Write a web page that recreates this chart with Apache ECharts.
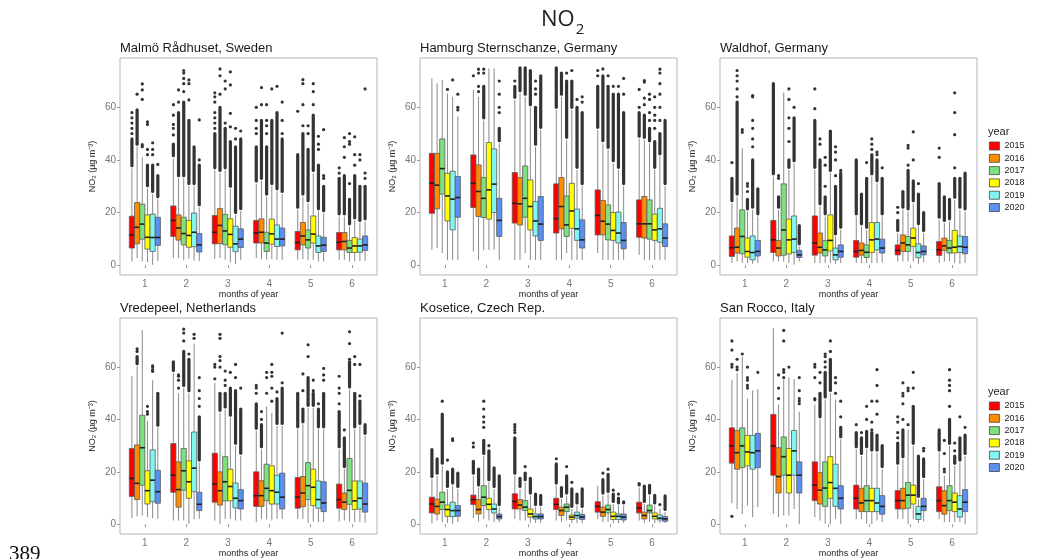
<!DOCTYPE html>
<html>
<head>
<meta charset="utf-8">
<script src="https://cdn.jsdelivr.net/npm/echarts@6/dist/echarts.min.js"></script>
<style>
  html, body { margin: 0; padding: 0; background: #fff; }
  #chart { width: 1046px; height: 559px; }
</style>
</head>
<body>
<div id="chart"></div>
<script>
// box rows: [lower whisker, Q1, median, Q3, upper whisker, top of dense outlier run (0 = none), ...single outliers]
const years = ['2015', '2016', '2017', '2018', '2019', '2020'];
const months = [1, 2, 3, 4, 5, 6];
const yTicks = [0, 20, 40, 60];
const yearColors = ['#ff0000', '#ff8c00', '#7ee07e', '#ffff00', '#80f5f2', '#5b8ff0'];
const stationNames = [
  'Malmö Rådhuset, Sweden', 'Hamburg Sternschanze, Germany', 'Waldhof, Germany',
  'Vredepeel, Netherlands', 'Kosetice, Czech Rep.', 'San Rocco, Italy'
];

const malmo = [
  [[1.4,6.5,11.5,18.6,36.8,48,50,52,54,56,58], [2.7,10.9,17.0,22.5,40.6,46,49.5,52,53.5,57,61], [2.4,8.1,12.5,18.9,36,50,52,54,56,58,62,64,65.5], [2.7,8.4,12.2,17.0,31,45,50,52,55,60], [2,5.8,8.6,12.8,21,42,58.5], [2,5.8,8.7,12.4,18.5,33,35,37]],
  [[2.7,8.1,14.4,23.8,45,59,65], [2.7,9.5,14.1,19.1,33,58,62,66.6], [2.7,8.2,15.1,21.5,35,60,65,72,74.6], [2.3,8.4,12.5,17.6,32,55,61,67.5], [2.3,7.7,11.1,16.2,26,50,53,61,69,70.5], [2,5.8,9,12.4,18.5,34,41,45,48.5]],
  [[1.4,9.9,15.6,23.2,41,0,45,45.8,63,66.6,68.9], [2.0,7.7,12.0,18.2,33,62,66,69,71,73,74], [2,7.8,13.0,19.3,36,52,54,67,70], [2,5.2,8.4,12.5,26,45,50,53,55,61], [2,6.5,9.6,13.4,23.5,44,50,53], [1.4,4.8,6.5,9.4,14.7,25,31,46,47,50]],
  [[1.1,6.1,10.6,19.1,29.2,38,42,44,53.5,54.5], [2.4,6.8,11.3,17.0,30,55,62.8,69,70.4], [1,6.8,11.7,17.6,29,47,52.6,57.7,68.5,73.5], [2.3,8,11.9,17.5,30,55,67], [2,8.4,11.8,18.7,35,57,61,66,69], [1.4,4.8,7.3,10.5,17,34,38,42,48.8]],
  [[0.1,5.2,10.5,19.4,27,38,42,44,46.5], [1.8,7.0,12.5,19.8,30,45], [0.5,5.1,8.1,14.8,19,45,48,52], [2,7.1,9.9,15.3,28,58,68], [1.4,4.8,7.3,11.1,20.4,38,44,46,49], [1.6,4.9,7.3,9.9,16,30,40,42]],
  [[1.6,7.5,10.5,18.2,25,34,38.3], [1.5,5.0,7.7,12.0,22,38,40,55.2], [2,6.7,9.9,13.8,20.5,48,51], [2,7.3,9.9,14.1,27,48,50,55,62], [1.4,5.2,7.6,10.6,19.7,30,33,34,51.5], [1.6,5.6,7.7,11.1,16.6,30,33,35,67]]
];

const hamburg = [
  [[5.8,19.7,31.1,42.5,71,0], [5.2,21.9,31.1,41.9,66.6,0,72], [2,16,23.5,35.2,62.8,68,70], [2,12.2,17.7,30.9,59,75], [4.6,11.5,18.9,28.6,51.4,68,72,74], [3.9,10.6,15.7,24.8,48,58,60,66.8]],
  [[6.5,21.4,30.4,42.5,69.1,0], [2,18.5,28,38.1,64,0,66,68,73,74.5], [2,15.3,23.3,33.3,65.3,75], [2,13.8,22.3,33.3,64,73], [2,11.5,16.7,24.6,46.3,72,74.6], [2,10.3,15.7,26.1,47.6,57,61,63.5,69.6,70.2]],
  [[4.6,27,36.7,48,70.4,0], [5.6,18.1,25.4,33.3,55,68,73,74.5], [4.6,18.2,25.4,37.7,64,75], [4.6,10.9,15.3,26.3,47.6,70,73], [2,9.6,15.6,22.9,43.8,68,72], [2,9.9,15.7,24.8,46.3,52,55,58,63,65]],
  [[2,16.8,26.3,34.9,65.3,0,66.8], [5.8,17.5,28.6,46.6,74.8,0], [2,13.4,22.3,32.4,60,74], [2,14,20.6,31.1,59,70,74], [2,9.4,13.2,20,38.7,65,68], [2,9.4,13.4,19.4,36.2,47,52,55,57,60,64]],
  [[2,13.4,25.1,35.7,64,0,70.4], [5.8,20,30.8,44.2,74.8,0], [2,11.1,16.8,24.2,45,60,65,67,70], [2,9.4,13.8,21.3,36.2,60,63], [2,8.4,12.2,20.2,36.2,65,68], [2,8.7,13.8,21.6,41.3,50,55,60,65,69,73,74.5]],
  [[2,18.2,25.7,33.7,56.5,0,59,60,65], [2,10.9,17,25.4,46.3,52,58,60,65,70], [2,9.4,15.6,26.1,51.4,72], [2,6.5,9.6,17.2,30,58,62,64], [2,6.2,9.4,16.2,30,58,65,71], [2,7.1,10.3,15.7,30,55]]
];

const waldhof = [
  [[0.8,3.3,6.6,11.1,23.5,33,39], [1.4,4.8,9.6,17,33.7,69], [0.8,3.8,8.4,18.7,36.2,55,59.5,67], [0.8,3,5.2,9.4,18.5,40], [1.4,3.9,5.6,7.7,12.2,17,20,22], [0.8,3.7,5.8,9,17.2,31,41,44.5]],
  [[1.4,4.6,6.8,14.1,26,62,64,67,70,72,74], [1.4,3.5,6.5,9.4,21,26,33,34], [0.8,4.6,6.8,12.2,22.3,40,46,48], [0.8,3.8,5.6,8.4,14.7,27], [1.4,5.2,8.4,11.5,21,28], [1.4,5.6,7.3,10.3,16,26]],
  [[0.8,4.3,10.9,21,44.5,0,50.5,51.5], [1.4,3.8,13.4,30.9,65.6,0], [0.8,3.5,5.8,9.4,18.5,26,30,38,41], [0.8,2.9,4.9,7.7,13.4,33,39], [1.4,5.2,7.7,10.9,20.4,36,38,44.5,45.5], [1.4,4.6,6.5,9.4,16.6,25]],
  [[0.8,3,5.2,10.3,20.4,25,28,30,31], [0.8,4.3,9.6,17.5,36.2,40,47,52,56,63,67], [0.8,5.4,9.4,19.1,35,51], [0.8,4.8,9.6,16.2,33.7,42,44,46,48], [1.4,7.1,10.3,14.1,23.5,32,40,50.7], [0.8,4.6,6.8,13.2,24.8,33,37,49.6,58,65.5]],
  [[0.5,2,4.8,11.1,21,40,45,48,52,55,64,64.5], [0.2,4.8,9.9,18.7,38.7,56,60], [0.5,2,3.9,6.5,10.9,30,34,40,43,45], [0.8,5.8,9.9,16.2,31.1,40,42,43], [0.5,2.8,4.8,8.1,14.7,27,31], [0.5,4.8,7.1,11.1,21,33]],
  [[0.8,3.5,5.2,9.4,18.5,29], [1.4,2.9,3.9,5.6,7.1,15], [0.8,3,5.2,7.7,13.4,35,36], [1,4.6,6.5,9.9,18.5,33,37], [1,3.9,5.2,7.3,12.2,20], [0.8,4.3,6.8,10.9,20.4,35]]
];

const vredepeel = [
  [[2.3,10.6,17.5,28.9,56.5,0], [1.4,12.2,18.7,30.8,57.7,62], [1.4,8.4,15.4,27.1,53.9,0,55.5,60,61], [0.8,6.8,10.9,20,35.6,46,50,52,53], [2,6.1,10.3,17.8,36.2,50], [1,6.1,9.4,15.3,28.6,43,46,50,52,56.5]],
  [[3,9.4,15.6,30.3,60.3,64,66,67], [1.4,6.5,13.2,23.8,50,0,52,55,56.5,57], [0.1,7.3,12.8,20,42.5,50,60,62.5,64,71,72.5], [2,6.8,10.9,16.6,28.6,38,40,43], [2,6.7,11.9,18.2,38.1,44,51,57.4], [1.4,5.6,8.4,11.9,21,33,36]],
  [[3.3,14.9,29.2,41.6,74.2,0], [1.4,13,20.4,28.9,52,66,70,73,74.5], [2,8.9,16.2,25.8,43.8,50,53,55,58.5], [1.8,9,13.7,22.9,45,0,50,56,58], [0.5,9.4,14.7,23.5,44.4,56,64,68.5], [1,7.6,12.9,25.1,51.4,62,63,69,73.5]],
  [[2.7,7.7,12.8,20.4,39.4,0,42,43,45], [0.1,9.9,16.2,24.2,50,63,65], [2,8.9,14.4,21,40.6,52,58], [1.4,7.7,12.8,22.3,42.5,0,47,52,56.5,58,61], [1,7.1,14.1,21,44.4,50,51,55], [0.8,5.6,8.9,16.5,36.2,50,61,64]],
  [[2.3,8.6,16.8,28.4,55,0,58.4,59,60,60.5], [2,12.4,21.4,35.2,69,0,71,72.5], [1.4,6.2,9.9,15.7,29.9,51,56,61], [2,7.7,12.2,18.7,37.5,48,50.5], [0.8,6.1,9.4,16.5,36.2,44,46], [0.8,5.8,9.9,16.5,37.5,47,49,61]],
  [[2,8,12.4,20.6,36.8,50], [2,5.2,7.6,12.2,23.5,41,45,48,51,56], [1.4,5.8,9,13.2,26.1,44,52], [2,5.8,10.3,19.5,37.5,52,54,73], [0.8,4.8,8.1,16.2,36.2,50,55,57,59.5], [0.5,4.6,7.7,15.7,33.7,38]]
];

const kosetice = [
  [[0.3,4.3,7.7,10.3,17.2,28.5], [2.3,7.5,9.4,11.1,18.5,24,29.5,31], [2,5.8,8.7,11.6,18.5,33,35,36,37,38], [1.4,5.6,7.6,9.9,14.7,23,25], [2,4.6,6.8,8.6,14.7,0], [1.4,4.3,6.1,8.4,14,15.5]],
  [[1.4,3.9,6.8,9.6,18.5,25], [1,3.9,5.6,9.4,14,21], [1.4,5.8,7.3,9.4,13.4,17.5], [0.8,3.3,5.2,6.5,9.6,14], [0.8,3,4.6,6.5,10.9,17,19.5], [0.5,2,3.3,4.6,7.7,14.5]],
  [[0.8,5.6,8.4,12.2,22.3,42,47], [2,7.1,10.3,14.7,26,32,37,39,41,44,47], [1.4,5.2,6.5,9,16,19.5,22], [1.4,4.8,6.5,7.7,10.9,18.5,22], [0.8,4.3,5.6,7.3,11.5,19,21], [0.8,4.3,5.2,7.3,10.9,14.8]],
  [[0.5,3,5.6,7.3,13.4,20,24.5], [1.4,5.6,7.6,9.9,16,28,30], [0.5,2.7,3.9,5.8,10.9,17.5], [0.4,1.8,2.7,3.5,5.8,13.5,16], [0.4,1.8,3,4.6,7.7,11.5,13], [0.4,2,3,4.3,7.1,11]],
  [[0.1,2.9,5.2,8.4,14.7,21,32,32.6], [0.8,4.3,5.8,7.7,13.4,21.5], [0.5,2,2.9,3.9,6.5,11.5], [0.4,2.3,3.3,4.6,7.1,11.5], [0.4,1.8,3,3.9,7.1,10,11.5], [0.4,1.6,2.3,3.5,5.8,0,7.5]],
  [[0.8,3,5.2,7.1,13.4,19.5], [0.8,2,2.9,3.9,6.5,18.5], [0.5,2,2.9,3.9,6.5,11], [0.4,1.8,2.7,3.7,5.8,13.5], [0.4,1.6,2.7,3.9,7.1,8.5], [0.4,1.1,2,2.9,4.6,10.8]]
];

const sanRocco = [
  [[8,23.3,29.9,36.8,55,0,3,60,61,66.5,70], [3.9,18.7,29.9,41.9,74.8,0], [2.7,9,14.9,23.8,45.7,0,47.5,48,56,60,61], [2,5.8,9.9,14.9,28.6,35,38], [2,5.8,9,12.8,22.3,31,33,35,39,41], [2,4.8,9,14.3,27.3,36]],
  [[5.8,21,27.3,35.8,57.7,0,59,60,63], [2.7,11.9,18.2,29.2,45.7,0,48,52,57], [1.4,7.7,13,19.7,40,50,54,58], [2,4.8,8.1,13.7,26,33,35], [2,5.8,9,13.7,24.8,36,40,46,49,50,54], [0.8,3.8,7.1,12.8,18.5,0,20,21,27,32]],
  [[3.9,21.6,29.9,36.8,64,0,65], [3.3,18.7,25.8,33.3,55.2,0,56,58,59,70,74], [0.1,6.8,13.8,23.8,47.6,58,60,62,64,65], [0.1,4.8,9,14.7,28.6,35.5,40,45], [0,6.1,11.1,15.9,36.2,0,38,51,52], [0.8,5.2,9,14.7,29.9,40,45,51,53,55,59]],
  [[7.1,22.3,27.6,33.9,48,0,52,53,55,56,60], [3.3,11.9,18.7,28.9,56,0,60], [0,9.9,15.9,25.8,50.1,63,66,70], [0,4.8,9,13.7,27.3,35,36,39,47], [2,7.7,11.1,14.9,29.9,45,52,58], [0.8,4.8,8.4,11.9,22.3,26,28,31]],
  [[2.7,21,27.3,33.9,51.1,0], [5.8,18.7,28,35.8,55.4,0], [2,6.8,13.7,22.9,47.6,0,50,54,56], [1.4,4.8,8.1,13.7,27.3,34,42,47,53,59], [0.5,1.8,3.9,6.8,9.6,26], [0.8,2.7,5.8,10.9,23.5,33,41]],
  [[6.5,21.6,28,34.7,51.6,0,58], [0,11.9,18.7,23.8,43,0,46,47,48,51,56], [0,5.8,9.9,14.7,32.4,37,41,47], [0.8,3.8,6.8,10.9,21,30], [1,5.2,6.8,9.9,17.2,25,28,29], [0,4.8,8.4,13.2,26,34,37]]
];

const stations = [malmo, hamburg, waldhof, vredepeel, kosetice, sanRocco];

const gridLeft = [120, 420, 720];
const gridTop = [58, 318];
const gridW = 257;
const gridH = 217;
const sansFont = '"Liberation Sans", Arial, sans-serif';

// one box per month for a given station/year, dodged like ggplot (6 boxes share 0.75 of a month)
function boxRenderer(rows, k, color) {
  return function (params, api) {
    const r = rows[params.dataIndex];
    const m = api.value(0);
    const band = api.size([1, 0])[0];
    const w = band * 0.75 / 6;
    const cx = api.coord([m, 0])[0] + (k - 2.5) * w;
    const y = v => api.coord([m, v])[1];
    const out = [];
    const whisker = { stroke: '#8a8a8a', lineWidth: 1 };
    out.push({ type: 'line', shape: { x1: cx, y1: y(r[0]), x2: cx, y2: y(r[1]) }, style: whisker });
    out.push({ type: 'line', shape: { x1: cx, y1: y(r[3]), x2: cx, y2: y(r[4]) }, style: whisker });
    out.push({
      type: 'rect',
      shape: { x: cx - w / 2, y: y(r[3]), width: w, height: y(r[1]) - y(r[3]) },
      style: { fill: color, stroke: '#5a5a5a', lineWidth: 0.8 }
    });
    out.push({
      type: 'line',
      shape: { x1: cx - w / 2, y1: y(r[2]), x2: cx + w / 2, y2: y(r[2]) },
      style: { stroke: '#1e1e1e', lineWidth: 1.6 }
    });
    if (r[5] > r[4]) {
      out.push({
        type: 'line',
        shape: { x1: cx, y1: y(r[4] + 1), x2: cx, y2: y(r[5]) },
        style: { stroke: '#333', lineWidth: 3.2, lineCap: 'round' }
      });
    }
    for (let j = 6; j < r.length; j++) {
      out.push({ type: 'circle', shape: { cx: cx, cy: y(r[j]), r: 1.6 }, style: { fill: '#333' } });
    }
    return { type: 'group', children: out };
  };
}

const grids = [], xAxes = [], yAxes = [], series = [];
const titles = [
  {
    text: '{a|NO}{s|2}', left: 541, top: 2, padding: 0,
    textStyle: {
      fontWeight: 'normal',
      rich: {
        a: { fontSize: 22, fontWeight: 'normal', fontFamily: '"Open Sans", sans-serif', color: '#222', lineHeight: 36 },
        s: { fontSize: 15, fontWeight: 'normal', fontFamily: '"Open Sans", sans-serif', color: '#222', lineHeight: 16, padding: [20, 0, 0, 1] }
      }
    }
  },
  { text: 'year', left: 988, top: 126, padding: 0, textStyle: { fontSize: 11, fontWeight: 'normal', color: '#222', fontFamily: sansFont } },
  { text: 'year', left: 988, top: 386, padding: 0, textStyle: { fontSize: 11, fontWeight: 'normal', color: '#222', fontFamily: sansFont } },
  { text: '389', left: 9, top: 544, padding: 0, textStyle: { fontSize: 21, fontWeight: 'normal', color: '#111', fontFamily: '"Liberation Serif", serif' } }
];

stations.forEach((st, s) => {
  const left = gridLeft[s % 3];
  const top = gridTop[Math.floor(s / 3)];
  grids.push({ left: left, top: top, width: gridW, height: gridH, show: true, borderColor: '#b5b5b5', borderWidth: 1, backgroundColor: '#fff' });
  titles.push({
    text: stationNames[s], left: left, top: top - 16, padding: 0,
    textStyle: { fontSize: 13, fontWeight: 'normal', color: '#1a1a1a', fontFamily: sansFont }
  });
  xAxes.push({
    gridIndex: s, type: 'value', min: 0.4, max: 6.6,
    name: 'months of year', nameLocation: 'middle', nameGap: 15,
    nameTextStyle: { fontSize: 9, color: '#222', fontFamily: sansFont },
    axisLine: { show: false },
    axisTick: { show: true, length: 3, customValues: months, lineStyle: { color: '#999' } },
    axisLabel: { customValues: months, fontSize: 10, color: '#777', margin: 4, fontFamily: sansFont },
    splitLine: { show: false }
  });
  yAxes.push({
    gridIndex: s, type: 'value', min: -3.75, max: 78.75,
    name: 'NO₂ (µg m⁻³)', nameLocation: 'middle', nameGap: 23,
    nameTextStyle: { fontSize: 9, color: '#222', fontFamily: sansFont },
    axisLine: { show: false },
    axisTick: { show: true, length: 3, customValues: yTicks, lineStyle: { color: '#999' } },
    axisLabel: { customValues: yTicks, fontSize: 10, color: '#777', margin: 4, fontFamily: sansFont },
    splitLine: { show: false }
  });
  st.forEach((rows, k) => {
    series.push({
      type: 'custom',
      name: years[k],
      xAxisIndex: s,
      yAxisIndex: s,
      itemStyle: { color: yearColors[k] },
      encode: { x: 0, y: [1, 2] },
      data: months.map((m, i) => [m, rows[i][0], rows[i][4]]),
      renderItem: boxRenderer(rows, k, yearColors[k])
    });
  });
});

const legendBase = {
  orient: 'vertical', left: 989, icon: 'rect', itemWidth: 10, itemHeight: 8, itemGap: 3.3, padding: 0,
  data: years, selectedMode: false,
  itemStyle: { borderColor: '#444', borderWidth: 0.8 },
  textStyle: { fontSize: 9, color: '#222', fontFamily: sansFont }
};

const chart = echarts.init(document.getElementById('chart'));
chart.setOption({
  animation: false,
  backgroundColor: '#fff',
  title: titles,
  legend: [
    Object.assign({}, legendBase, { top: 141.5 }),
    Object.assign({}, legendBase, { top: 401.5 })
  ],
  grid: grids,
  xAxis: xAxes,
  yAxis: yAxes,
  series: series
});
</script>
</body>
</html>
